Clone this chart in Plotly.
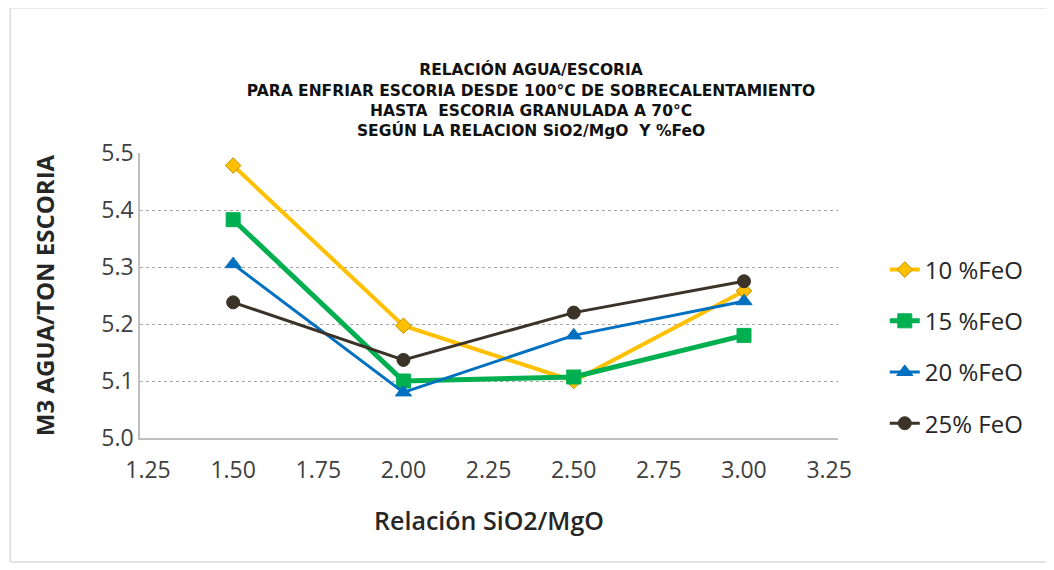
import plotly.graph_objects as go

# ── data ──────────────────────────────────────────────────────────────────────
ratio_sio2_mgo = [1.5, 2.0, 2.5, 3.0]
feo_10 = [5.478, 5.197, 5.100, 5.258]
feo_15 = [5.383, 5.100, 5.107, 5.180]
feo_20 = [5.305, 5.080, 5.180, 5.240]
feo_25 = [5.238, 5.137, 5.220, 5.275]
x_ticks = [1.25, 1.50, 1.75, 2.00, 2.25, 2.50, 2.75, 3.00, 3.25]
y_ticks = [5.0, 5.1, 5.2, 5.3, 5.4, 5.5]
title_lines = [
    "RELACIÓN AGUA/ESCORIA",
    "PARA ENFRIAR ESCORIA DESDE 100°C DE SOBRECALENTAMIENTO",
    "HASTA  ESCORIA GRANULADA A 70°C",
    "SEGÚN LA RELACION SiO2/MgO  Y %FeO",
]

series = [
    ("10 %FeO", feo_10, "#FFC000", "diamond", 12, 4),
    ("15 %FeO", feo_15, "#00B050", "square", 14, 5),
    ("20 %FeO", feo_20, "#0070C0", "triangle-up", 14, 3),
    ("25% FeO", feo_25, "#3B3328", "circle", 13, 3),
]

fig = go.Figure()
for name, vals, col, sym, size, width in series:
    fig.add_trace(go.Scatter(
        x=ratio_sio2_mgo, y=vals, name=name, mode="lines+markers",
        legendgroup=name,
        line=dict(color=col, width=width),
        marker=dict(symbol=sym, size=size, color=col,
                    line=dict(width=1, color="#C09000" if sym == "diamond" else col)),
    ))

fig.update_layout(
    width=1046, height=562,
    paper_bgcolor="white", plot_bgcolor="white",
    font=dict(family="Open Sans", color="#333333"),
    title=dict(text="<b>" + "<br>".join(title_lines) + "</b>",
               x=0.5, xanchor="center", y=0.88, yanchor="top",
               font=dict(family="DejaVu Sans", size=15.5, color="#111111")),
    margin=dict(l=132, r=216, t=145, b=132),
    xaxis=dict(
        range=[1.2265, 3.276], tickvals=x_ticks,
        ticktext=[f"{v:.2f}" for v in x_ticks],
        showgrid=False, zeroline=False,
        showline=True, linecolor="#BFBFBF", linewidth=1.5,
        ticks="", ticklabelstandoff=11,
        tickfont=dict(size=23, color="#404040"),
        title=dict(text="Relación SiO2/MgO", standoff=28,
                   font=dict(size=25, weight=600, color="#262626")),
    ),
    yaxis=dict(
        range=[5.0, 5.5], tickvals=y_ticks,
        ticktext=[f"{v:.1f}" for v in y_ticks],
        showgrid=True, gridcolor="#A6A6A6", griddash="dot", gridwidth=1,
        zeroline=False, showline=True, linecolor="#BFBFBF", linewidth=1.5,
        ticks="", tickfont=dict(size=23, color="#404040"),
        title=dict(text="<b>M3 AGUA/TON ESCORIA</b>", standoff=40,
                   font=dict(size=24, color="#262626")),
    ),
    legend=dict(x=1.067, y=0.321, xanchor="left", yanchor="middle",
                font=dict(size=24, color="#262626"),
                traceorder="grouped", tracegroupgap=17,
                itemsizing="trace", bgcolor="rgba(0,0,0,0)"),
)

fig.add_shape(type="rect", xref="paper", yref="paper",
              x0=-0.186, x1=1.299, y0=-0.435, y1=1.509,
              line=dict(color="#C8C8C8", width=1))

fig.write_html("out.html")
